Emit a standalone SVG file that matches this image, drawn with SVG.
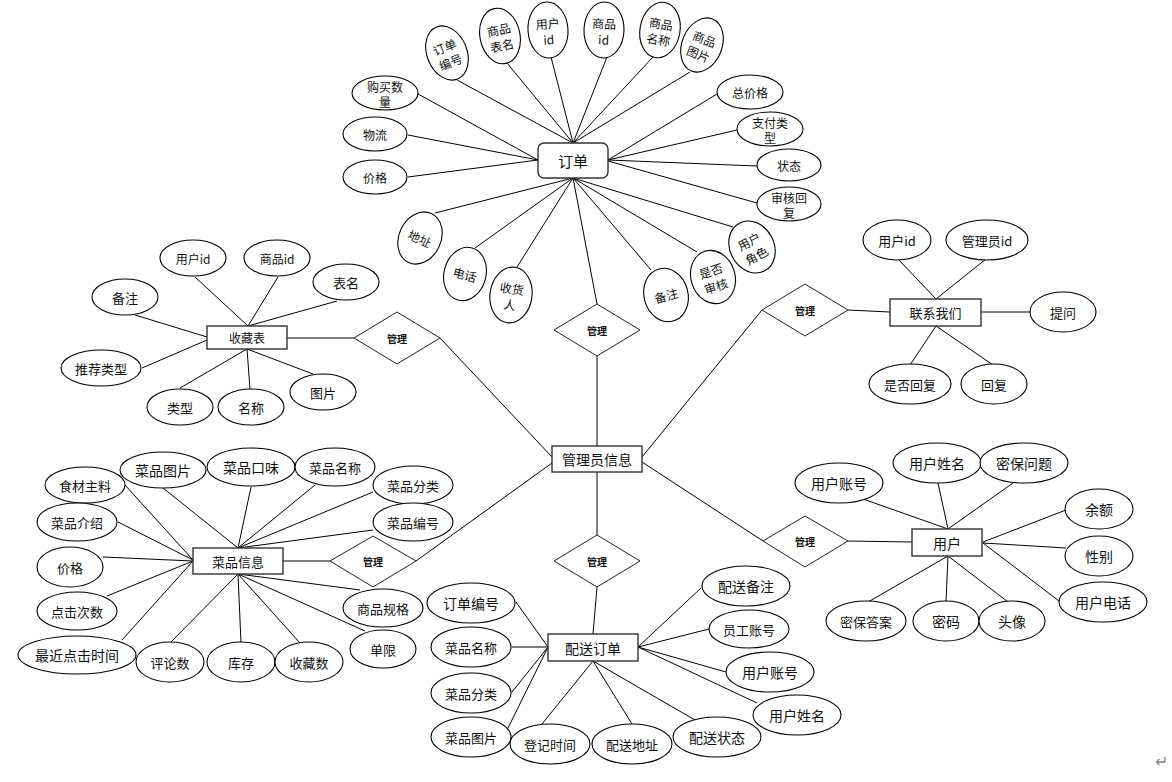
<svg xmlns="http://www.w3.org/2000/svg" width="1172" height="782" viewBox="0 0 1172 782">
<style>
text{font-family:"Noto Sans CJK SC","Liberation Sans",sans-serif;fill:#111;text-anchor:middle;dominant-baseline:central}
.a{fill:#fff;stroke:#000;stroke-width:1.1}
.e{fill:#fff;stroke:#333;stroke-width:1.4}
.d{fill:#fff;stroke:#222;stroke-width:1}
.c line{stroke:#000;stroke-width:1}
.s12{font-size:12px}.s13{font-size:13px}.s14{font-size:14px}.s15{font-size:15px}
.m{font-size:10px;font-weight:bold}
</style>
<rect width="1172" height="782" fill="#fff"/>
<g class="c" id="connectors">
<line x1="457" y1="80" x2="573" y2="143"/><line x1="507" y1="63" x2="573" y2="143"/><line x1="551" y1="57" x2="573" y2="143"/><line x1="607" y1="57" x2="573" y2="143"/><line x1="653" y1="57" x2="573" y2="143"/><line x1="690" y1="72" x2="573" y2="143"/>
<line x1="418" y1="94" x2="538" y2="160"/><line x1="408" y1="135" x2="538" y2="160"/><line x1="408" y1="177" x2="538" y2="160"/>
<line x1="717" y1="94" x2="608" y2="160"/><line x1="737" y1="130" x2="608" y2="160"/><line x1="757" y1="166" x2="608" y2="160"/><line x1="757" y1="203" x2="608" y2="161"/>
<line x1="435" y1="213" x2="573" y2="178"/><line x1="475" y1="248" x2="573" y2="178"/><line x1="517" y1="267" x2="573" y2="178"/><line x1="597" y1="304" x2="573" y2="178"/><line x1="651" y1="270" x2="573" y2="178"/><line x1="697" y1="252" x2="573" y2="178"/><line x1="733" y1="227" x2="573" y2="178"/>
<line x1="195" y1="277" x2="248" y2="326"/><line x1="278" y1="277" x2="248" y2="326"/><line x1="337" y1="301" x2="248" y2="326"/><line x1="135" y1="315" x2="207" y2="337"/><line x1="142" y1="368" x2="207" y2="340"/><line x1="180" y1="388" x2="247" y2="349"/><line x1="250" y1="389" x2="247" y2="349"/><line x1="313" y1="374" x2="247" y2="349"/>
<line x1="163" y1="488" x2="238" y2="548"/><line x1="251" y1="487" x2="238" y2="548"/><line x1="315" y1="485" x2="238" y2="548"/><line x1="373" y1="492" x2="238" y2="548"/><line x1="373" y1="530" x2="238" y2="548"/>
<line x1="125" y1="485" x2="193" y2="560"/><line x1="118" y1="522" x2="193" y2="560"/><line x1="103" y1="557" x2="193" y2="561"/><line x1="107" y1="596" x2="193" y2="561"/><line x1="122" y1="640" x2="193" y2="561"/>
<line x1="170" y1="643" x2="238" y2="574"/><line x1="241" y1="643" x2="238" y2="574"/><line x1="300" y1="643" x2="238" y2="574"/><line x1="360" y1="590" x2="238" y2="574"/><line x1="365" y1="631" x2="238" y2="574"/>
<line x1="516" y1="602" x2="548" y2="647"/><line x1="512" y1="647" x2="548" y2="647"/><line x1="512" y1="692" x2="548" y2="647"/><line x1="508" y1="728" x2="548" y2="647"/>
<line x1="542" y1="724" x2="593" y2="661"/><line x1="632" y1="724" x2="593" y2="661"/><line x1="695" y1="720" x2="593" y2="661"/>
<line x1="701" y1="588" x2="638" y2="647"/><line x1="709" y1="629" x2="638" y2="647"/><line x1="726" y1="672" x2="638" y2="647"/><line x1="757" y1="703" x2="638" y2="647"/>
<line x1="898" y1="259" x2="936" y2="299"/><line x1="986" y1="259" x2="936" y2="299"/><line x1="981" y1="312" x2="1030" y2="312"/><line x1="910" y1="365" x2="936" y2="326"/><line x1="993" y1="365" x2="936" y2="326"/>
<line x1="863" y1="499" x2="948" y2="529"/><line x1="938" y1="483" x2="948" y2="529"/><line x1="1013" y1="483" x2="948" y2="529"/><line x1="1066" y1="510" x2="983" y2="542"/><line x1="1066" y1="548" x2="983" y2="543"/><line x1="1059" y1="601" x2="983" y2="543"/><line x1="868" y1="602" x2="948" y2="556"/><line x1="946" y1="602" x2="948" y2="556"/><line x1="1012" y1="605" x2="948" y2="556"/>
<line x1="440" y1="338" x2="552" y2="457"/><line x1="416" y1="561" x2="552" y2="463"/><line x1="762" y1="310" x2="642" y2="457"/><line x1="763" y1="541" x2="642" y2="462"/>
<line x1="597" y1="356" x2="597" y2="446"/><line x1="597" y1="472" x2="597" y2="535"/><line x1="597" y1="587" x2="593" y2="634"/>
<line x1="287" y1="338" x2="354" y2="338"/><line x1="283" y1="561" x2="330" y2="561"/><line x1="848" y1="310" x2="890" y2="312"/><line x1="848" y1="541" x2="912" y2="542"/>
</g>
<g id="order"><rect class="e" x="538" y="143" width="70" height="35" rx="6"/><text class="s15" x="573" y="160.5">订单</text></g>
<g id="o_ddbh" transform="translate(447,53) rotate(-22)"><ellipse class="a" rx="20" ry="28"/><text class="s12" y="-7">订单</text><text class="s12" y="9">编号</text></g>
<g id="o_spbm" transform="translate(500,36) rotate(-12)"><ellipse class="a" rx="20" ry="28"/><text class="s12" y="-7">商品</text><text class="s12" y="9">表名</text></g>
<g id="o_yhid" transform="translate(548,30) rotate(-4)"><ellipse class="a" rx="20" ry="28"/><text class="s12" y="-7">用户</text><text class="s12" y="9">id</text></g>
<g id="o_spid" transform="translate(604,30) rotate(2)"><ellipse class="a" rx="20" ry="28"/><text class="s12" y="-7">商品</text><text class="s12" y="9">id</text></g>
<g id="o_spmc" transform="translate(660,30) rotate(10)"><ellipse class="a" rx="20" ry="28"/><text class="s12" y="-7">商品</text><text class="s12" y="9">名称</text></g>
<g id="o_sptp" transform="translate(702,45) rotate(22)"><ellipse class="a" rx="20" ry="28"/><text class="s12" y="-7">商品</text><text class="s12" y="9">图片</text></g>
<g id="o_gmsl"><ellipse class="a" cx="385" cy="93" rx="33" ry="17"/><text class="s12" x="385" y="86">购买数</text><text class="s12" x="385" y="101">量</text></g>
<g id="o_wl"><ellipse class="a" cx="375" cy="134" rx="32" ry="17"/><text class="s12" x="375" y="134">物流</text></g>
<g id="o_jg"><ellipse class="a" cx="375" cy="177" rx="32" ry="17"/><text class="s12" x="375" y="177">价格</text></g>
<g id="o_zjg"><ellipse class="a" cx="750" cy="92" rx="33" ry="17"/><text class="s12" x="750" y="92">总价格</text></g>
<g id="o_zflx"><ellipse class="a" cx="770" cy="129" rx="33" ry="17"/><text class="s12" x="770" y="122">支付类</text><text class="s12" x="770" y="137">型</text></g>
<g id="o_zt"><ellipse class="a" cx="789" cy="165" rx="32" ry="16"/><text class="s12" x="789" y="165">状态</text></g>
<g id="o_shhf"><ellipse class="a" cx="789" cy="204" rx="32" ry="17"/><text class="s12" x="789" y="197">审核回</text><text class="s12" x="789" y="212">复</text></g>
<g id="o_dz" transform="translate(420,238) rotate(25)"><ellipse class="a" rx="21" ry="27"/><text class="s12">地址</text></g>
<g id="o_dh" transform="translate(465,274) rotate(15)"><ellipse class="a" rx="21" ry="27"/><text class="s12">电话</text></g>
<g id="o_shr" transform="translate(511,295) rotate(8)"><ellipse class="a" rx="21" ry="28"/><text class="s12" y="-7">收货</text><text class="s12" y="9">人</text></g>
<g id="o_bz" transform="translate(666,295) rotate(-15)"><ellipse class="a" rx="22" ry="27"/><text class="s12">备注</text></g>
<g id="o_sfsh" transform="translate(713,277) rotate(-18)"><ellipse class="a" rx="22" ry="27"/><text class="s12" y="-7">是否</text><text class="s12" y="9">审核</text></g>
<g id="o_yhjs" transform="translate(752,247) rotate(-28)"><ellipse class="a" rx="22" ry="27"/><text class="s12" y="-7">用户</text><text class="s12" y="9">角色</text></g>
<g id="rel_order"><polygon class="d" points="554,330 597,304 640,330 597,356"/><text class="m" x="597" y="330">管理</text></g>
<g id="admin"><rect class="e" x="552" y="446" width="90" height="26"/><text class="s14" x="597" y="459">管理员信息</text></g>
<g id="rel_dispatch"><polygon class="d" points="554,561 597,535 640,561 597,587"/><text class="m" x="597" y="561">管理</text></g>
<g id="rel_fav"><polygon class="d" points="354,338 397,312 440,338 397,364"/><text class="m" x="397" y="338">管理</text></g>
<g id="rel_dish"><polygon class="d" points="330,561 373,536 416,561 373,587"/><text class="m" x="373" y="561">管理</text></g>
<g id="rel_contact"><polygon class="d" points="762,310 805,284 848,310 805,336"/><text class="m" x="805" y="310">管理</text></g>
<g id="rel_user"><polygon class="d" points="763,541 805,516 848,541 805,567"/><text class="m" x="805" y="541">管理</text></g>
<g id="fav"><rect class="e" x="207" y="326" width="80" height="23"/><text class="s12" x="247" y="337.5">收藏表</text></g>
<g id="f_yhid"><ellipse class="a" cx="193" cy="258" rx="33" ry="18"/><text class="s12" x="193" y="258">用户id</text></g>
<g id="f_spid"><ellipse class="a" cx="277" cy="258" rx="33" ry="18"/><text class="s12" x="277" y="258">商品id</text></g>
<g id="f_bm"><ellipse class="a" cx="346" cy="282" rx="33" ry="18"/><text class="s13" x="346" y="282">表名</text></g>
<g id="f_bz"><ellipse class="a" cx="125" cy="297" rx="33" ry="18"/><text class="s13" x="125" y="297">备注</text></g>
<g id="f_tjlx"><ellipse class="a" cx="101" cy="368" rx="40" ry="18"/><text class="s13" x="101" y="368">推荐类型</text></g>
<g id="f_lx"><ellipse class="a" cx="180" cy="407" rx="33" ry="18"/><text class="s13" x="180" y="407">类型</text></g>
<g id="f_mc"><ellipse class="a" cx="251" cy="407" rx="33" ry="18"/><text class="s13" x="251" y="407">名称</text></g>
<g id="f_tp"><ellipse class="a" cx="323" cy="392" rx="33" ry="18"/><text class="s13" x="323" y="392">图片</text></g>
<g id="dish"><rect class="e" x="193" y="548" width="90" height="26"/><text class="s13" x="238" y="561">菜品信息</text></g>
<g id="d_cptp"><ellipse class="a" cx="163" cy="470" rx="43" ry="18"/><text class="s14" x="163" y="470">菜品图片</text></g>
<g id="d_cpkw"><ellipse class="a" cx="251" cy="467" rx="44" ry="19"/><text class="s14" x="251" y="467">菜品口味</text></g>
<g id="d_cpmc"><ellipse class="a" cx="335" cy="467" rx="40" ry="19"/><text class="s13" x="335" y="467">菜品名称</text></g>
<g id="d_cpfl"><ellipse class="a" cx="413" cy="485" rx="40" ry="19"/><text class="s13" x="413" y="485">菜品分类</text></g>
<g id="d_cpbh"><ellipse class="a" cx="413" cy="522" rx="40" ry="19"/><text class="s13" x="413" y="522">菜品编号</text></g>
<g id="d_sczl"><ellipse class="a" cx="85" cy="485" rx="40" ry="18"/><text class="s13" x="85" y="485">食材主料</text></g>
<g id="d_cpjs"><ellipse class="a" cx="77" cy="522" rx="40" ry="19"/><text class="s13" x="77" y="522">菜品介绍</text></g>
<g id="d_jg"><ellipse class="a" cx="70" cy="567" rx="33" ry="20"/><text class="s13" x="70" y="567">价格</text></g>
<g id="d_djcs"><ellipse class="a" cx="77" cy="611" rx="40" ry="19"/><text class="s13" x="77" y="611">点击次数</text></g>
<g id="d_zjdjsj"><ellipse class="a" cx="77" cy="655" rx="59" ry="19"/><text class="s14" x="77" y="655">最近点击时间</text></g>
<g id="d_pls"><ellipse class="a" cx="170" cy="662" rx="34" ry="20"/><text class="s13" x="170" y="662">评论数</text></g>
<g id="d_kc"><ellipse class="a" cx="241" cy="662" rx="34" ry="20"/><text class="s13" x="241" y="662">库存</text></g>
<g id="d_scs"><ellipse class="a" cx="309" cy="662" rx="34" ry="20"/><text class="s13" x="309" y="662">收藏数</text></g>
<g id="d_spgg"><ellipse class="a" cx="383" cy="608" rx="40" ry="19"/><text class="s13" x="383" y="608">商品规格</text></g>
<g id="d_dx"><ellipse class="a" cx="383" cy="649" rx="33" ry="19"/><text class="s13" x="383" y="649">单限</text></g>
<g id="dispatch"><rect class="e" x="548" y="634" width="90" height="27"/><text class="s14" x="593" y="647.5">配送订单</text></g>
<g id="p_ddbh"><ellipse class="a" cx="471" cy="603" rx="44" ry="20"/><text class="s14" x="471" y="603">订单编号</text></g>
<g id="p_cpmc"><ellipse class="a" cx="471" cy="647" rx="40" ry="20"/><text class="s13" x="471" y="647">菜品名称</text></g>
<g id="p_cpfl"><ellipse class="a" cx="471" cy="693" rx="40" ry="20"/><text class="s13" x="471" y="693">菜品分类</text></g>
<g id="p_cptp"><ellipse class="a" cx="471" cy="737" rx="40" ry="20"/><text class="s13" x="471" y="737">菜品图片</text></g>
<g id="p_djsj"><ellipse class="a" cx="550" cy="744" rx="40" ry="20"/><text class="s13" x="550" y="744">登记时间</text></g>
<g id="p_psdz"><ellipse class="a" cx="632" cy="744" rx="40" ry="20"/><text class="s13" x="632" y="744">配送地址</text></g>
<g id="p_pszt"><ellipse class="a" cx="717" cy="737" rx="44" ry="20"/><text class="s14" x="717" y="737">配送状态</text></g>
<g id="p_psbz"><ellipse class="a" cx="746" cy="586" rx="44" ry="20"/><text class="s14" x="746" y="586">配送备注</text></g>
<g id="p_ygzh"><ellipse class="a" cx="749" cy="629" rx="40" ry="19"/><text class="s13" x="749" y="629">员工账号</text></g>
<g id="p_yhzh"><ellipse class="a" cx="770" cy="672" rx="44" ry="20"/><text class="s14" x="770" y="672">用户账号</text></g>
<g id="p_yhxm"><ellipse class="a" cx="797" cy="715" rx="44" ry="20"/><text class="s14" x="797" y="715">用户姓名</text></g>
<g id="contact"><rect class="e" x="890" y="299" width="91" height="27"/><text class="s13" x="935.5" y="312.5">联系我们</text></g>
<g id="c_yhid"><ellipse class="a" cx="897" cy="240" rx="34" ry="20"/><text class="s13" x="897" y="240">用户id</text></g>
<g id="c_glyid"><ellipse class="a" cx="987" cy="240" rx="41" ry="20"/><text class="s13" x="987" y="240">管理员id</text></g>
<g id="c_tw"><ellipse class="a" cx="1063" cy="312" rx="33" ry="20"/><text class="s13" x="1063" y="312">提问</text></g>
<g id="c_sfhf"><ellipse class="a" cx="910" cy="384" rx="41" ry="20"/><text class="s13" x="910" y="384">是否回复</text></g>
<g id="c_hf"><ellipse class="a" cx="994" cy="384" rx="33" ry="20"/><text class="s13" x="994" y="384">回复</text></g>
<g id="user"><rect class="e" x="912" y="529" width="70" height="27"/><text class="s14" x="947" y="542.5">用户</text></g>
<g id="u_yhzh"><ellipse class="a" cx="839" cy="483" rx="44" ry="20"/><text class="s14" x="839" y="483">用户账号</text></g>
<g id="u_yhxm"><ellipse class="a" cx="937" cy="463" rx="44" ry="20"/><text class="s14" x="937" y="463">用户姓名</text></g>
<g id="u_mbwt"><ellipse class="a" cx="1024" cy="463" rx="44" ry="20"/><text class="s14" x="1024" y="463">密保问题</text></g>
<g id="u_ye"><ellipse class="a" cx="1099" cy="509" rx="34" ry="20"/><text class="s14" x="1099" y="509">余额</text></g>
<g id="u_xb"><ellipse class="a" cx="1099" cy="556" rx="34" ry="20"/><text class="s14" x="1099" y="556">性别</text></g>
<g id="u_yhdh"><ellipse class="a" cx="1103" cy="602" rx="44" ry="20"/><text class="s14" x="1103" y="602">用户电话</text></g>
<g id="u_mbda"><ellipse class="a" cx="866" cy="621" rx="40" ry="20"/><text class="s13" x="866" y="621">密保答案</text></g>
<g id="u_mm"><ellipse class="a" cx="946" cy="621" rx="33" ry="20"/><text class="s14" x="946" y="621">密码</text></g>
<g id="u_tx"><ellipse class="a" cx="1012" cy="621" rx="33" ry="20"/><text class="s14" x="1012" y="621">头像</text></g>
<text x="1161" y="760" style="font-size:16px;fill:#888">↵</text>
</svg>
